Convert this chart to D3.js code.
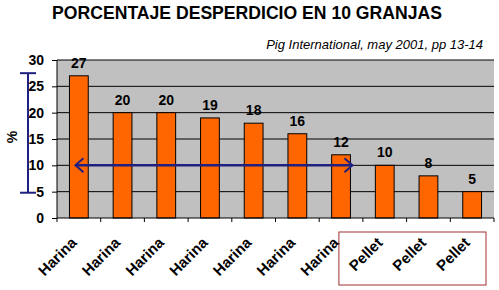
<!DOCTYPE html>
<html><head><meta charset="utf-8">
<script src="https://cdn.jsdelivr.net/npm/d3@7"></script>
<style>body{margin:0;background:#fff}text{font-family:"Liberation Sans",Arial,sans-serif}</style>
</head><body><svg id="c" width="499" height="290"></svg>
<script>
const categories = ["Harina","Harina","Harina","Harina","Harina","Harina","Harina","Pellet","Pellet","Pellet"];
const values = [27,20,20,19,18,16,12,10,8,5];
const yTicks = [0,5,10,15,20,25,30];
const rangeBar = [27.5, 4.8];   // vertical range marker
const arrowValue = 10;           // horizontal arrow level
const title = "PORCENTAJE DESPERDICIO EN 10 GRANJAS";
const source = "Pig International, may 2001, pp 13-14";

const svg = d3.select("#c");
const L=57, R=494, T=60, B=218;
const x = d3.scaleBand().domain(d3.range(values.length)).range([L,R]).paddingInner(0.57).paddingOuter(0.285);
const xb = d3.scaleBand().domain(d3.range(values.length)).range([L,R]);
const y = d3.scaleLinear().domain([0,30]).range([B,T]);

svg.append("rect").attr("x",L).attr("y",T).attr("width",R-L).attr("height",B-T).attr("fill","#c0c0c0");
svg.append("g").selectAll("line").data(yTicks.filter(d=>d>0)).join("line")
  .attr("x1",L).attr("x2",R).attr("y1",d=>y(d)).attr("y2",d=>y(d)).attr("stroke","#000").attr("stroke-width",1);

svg.append("g").selectAll("rect").data(values).join("rect")
  .attr("x",(d,i)=>x(i)).attr("width",x.bandwidth()).attr("y",d=>y(d)).attr("height",d=>B-y(d))
  .attr("fill","#ff6600").attr("stroke","#000").attr("stroke-width",1);

// y axis
const ya = svg.append("g").attr("transform",`translate(${L},0)`).call(d3.axisLeft(y).tickValues(yTicks).tickSize(5).tickPadding(8));
ya.selectAll("text").attr("font-size",14).attr("font-weight","bold").attr("fill","#000");
ya.select(".domain").attr("d",`M0,${B}V${T}`);
// x axis
const xa = svg.append("g").attr("transform",`translate(0,${B})`);
xa.append("line").attr("x1",L).attr("x2",R).attr("stroke","#000");
xa.selectAll("line.t").data(d3.range(values.length+1)).join("line").attr("class","t")
  .attr("x1",i=>L+i*xb.step()).attr("x2",i=>L+i*xb.step()).attr("y1",0).attr("y2",4).attr("stroke","#000");
svg.append("g").selectAll("text").data(categories).join("text")
  .attr("transform",(d,i)=>`translate(${xb(i)+xb.bandwidth()/2-5},${B+22}) rotate(-45)`)
  .attr("text-anchor","end").attr("dy","0.35em").attr("font-size",15).attr("font-weight","bold").text(d=>d);

// value labels
svg.append("g").selectAll("text").data(values).join("text")
  .attr("x",(d,i)=>x(i)+x.bandwidth()/2).attr("y",d=>y(d)-8).attr("text-anchor","middle")
  .attr("font-size",14).attr("font-weight","bold").text(d=>d);

// title
svg.append("text").attr("x",247).attr("y",19).attr("text-anchor","middle").attr("font-size",17.6).attr("font-weight","bold").text(title);
svg.append("text").attr("x",483).attr("y",49).attr("text-anchor","end").attr("font-size",13).attr("font-style","italic").text(source);
svg.append("text").attr("transform","translate(17,137) rotate(-90)").attr("text-anchor","middle").attr("font-size",14).attr("font-weight","bold").text("%");

// range marker
const navy="#202080";
const rb = svg.append("g").attr("stroke",navy).attr("stroke-width",2).attr("fill","none");
rb.append("line").attr("x1",28).attr("x2",28).attr("y1",y(rangeBar[0])).attr("y2",y(rangeBar[1]));
rangeBar.forEach(v=>rb.append("line").attr("x1",20).attr("x2",36).attr("y1",y(v)).attr("y2",y(v)));
// arrow
const ax1 = x(0)+6, ax2 = x(6)+x.bandwidth()+2, ay = y(arrowValue);
rb.append("line").attr("x1",ax1).attr("x2",ax2).attr("y1",ay).attr("y2",ay).attr("stroke-width",2.5);
rb.append("path").attr("d",`M${ax1+8},${ay-7}L${ax1},${ay}L${ax1+8},${ay+7}`);
rb.append("path").attr("d",`M${ax2-8},${ay-7}L${ax2},${ay}L${ax2-8},${ay+7}`);

// pellet box
const pi = categories.map((c,i)=>c==="Pellet"?i:-1).filter(i=>i>=0);
svg.append("rect").attr("x",xb(pi[0])-24).attr("y",232).attr("width",xb(pi[pi.length-1])+xb.bandwidth()-8-(xb(pi[0])-24)).attr("height",53)
  .attr("fill","none").attr("stroke","#a03030").attr("stroke-width",1);
</script></body></html>
